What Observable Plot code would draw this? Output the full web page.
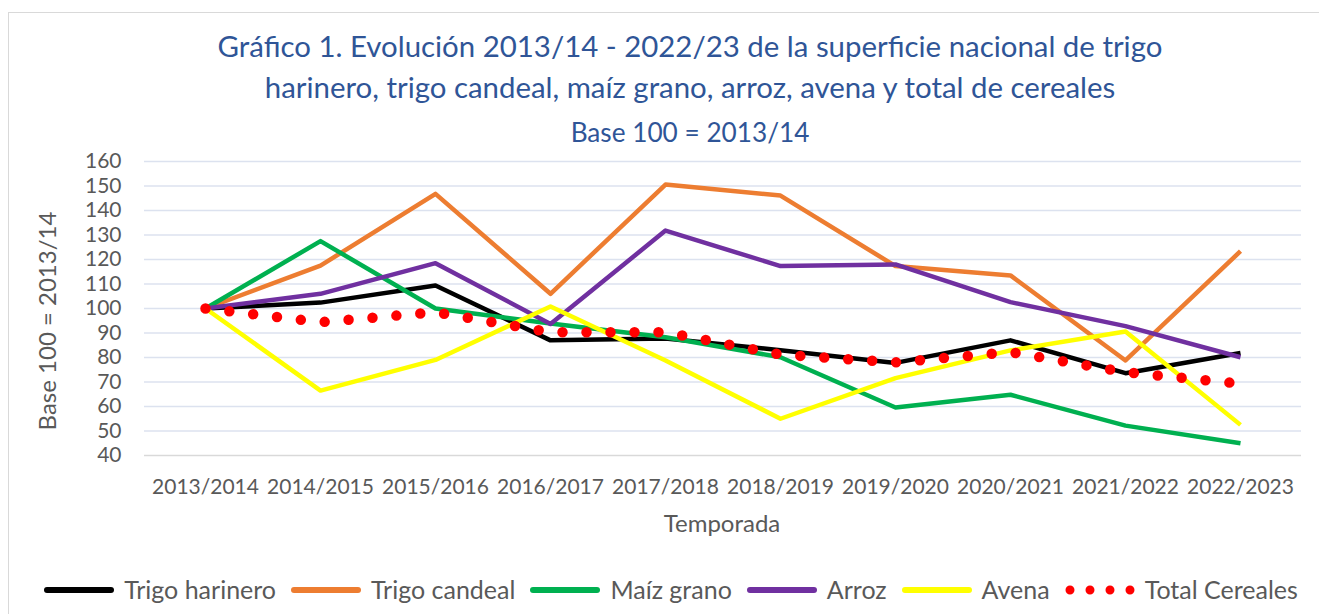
<!DOCTYPE html>
<html><head><meta charset="utf-8">
<script src="https://cdn.jsdelivr.net/npm/d3@7"></script>
<script src="https://cdn.jsdelivr.net/npm/@observablehq/plot@0.6"></script>
<style>
html,body{margin:0;padding:0;background:#fff;overflow:hidden;width:1319px;height:614px;font-family:Lato,"Open Sans",sans-serif;}
#frame{position:absolute;left:8px;top:12px;width:1400px;height:700px;border-top:1px solid #d9d9d9;border-left:1px solid #d9d9d9;box-sizing:border-box;}
.t{position:absolute;left:0;width:1380px;text-align:center;color:#2F5597;white-space:nowrap;line-height:1;}
#chart{position:absolute;left:0;top:0;}
.axt{position:absolute;color:#595959;white-space:nowrap;line-height:1;font-size:24px;}
#legend{position:absolute;left:0;top:577px;width:1342px;display:flex;justify-content:center;align-items:center;color:#595959;font-size:25px;line-height:1;}
#legend .it{display:flex;align-items:center;margin:0 7.5px;}
#legend svg{margin-right:10px;}
</style></head><body>
<div id="frame"></div>
<div class="t" id="t1" style="top:31px;font-size:29.4px;">Gráfico 1. Evolución 2013/14 - 2022/23 de la superficie nacional de trigo</div>
<div class="t" id="t2" style="top:72px;font-size:29.4px;">harinero, trigo candeal, maíz grano, arroz, avena y total de cereales</div>
<div class="t" id="t3" style="top:119px;font-size:26.2px;">Base 100 = 2013/14</div>
<div id="chart"></div>
<div class="axt" id="xt" style="left:0;width:1444px;text-align:center;top:511px;">Temporada</div>
<div class="axt" id="yt" style="left:47px;top:321px;transform:translate(-50%,-50%) rotate(-90deg);">Base 100 = 2013/14</div>
<div id="legend"></div>
<script>
const seasons = ["2013/2014","2014/2015","2015/2016","2016/2017","2017/2018","2018/2019","2019/2020","2020/2021","2021/2022","2022/2023"];
const yTicks = [40,50,60,70,80,90,100,110,120,130,140,150,160];
const trigoHarinero = [100,102.4,109.4,87,87.8,83,77.8,87,73.6,81.8];
const trigoCandeal = [100,117.5,146.8,106,150.6,146.1,117.3,113.5,78.8,123.4];
const maizGrano = [100,127.5,100,93.9,88.3,80.1,59.6,64.8,52.2,45];
const arroz = [100,106,118.5,93.7,131.8,117.3,118,102.6,92.8,80.1];
const avena = [100,66.5,79,100.8,78.8,55,71.6,82.9,90.6,52.5];
const totalCereales = [100,94.4,98.5,90.3,90.3,81.2,78,82.2,74,69.3];
const seriesNames = ["Trigo harinero","Trigo candeal","Maíz grano","Arroz","Avena","Total Cereales"];
const seriesColors = ["#000000","#ED7D31","#00B050","#7030A0","#FFFF00","#FF0000"];
const seriesValues = [trigoHarinero,trigoCandeal,maizGrano,arroz,avena,totalCereales];

const rows = (k) => seriesValues[k].map((v,i)=>({season:seasons[i], value:v}));
const lineMarks = seriesValues.map((vals,k)=>{
  if (k === 5) {
    return Plot.line(rows(k), {x:"season", y:"value", stroke:seriesColors[k], strokeWidth:10.5, strokeDasharray:"0 24", strokeLinecap:"round"});
  }
  return Plot.line(rows(k), {x:"season", y:"value", stroke:seriesColors[k], strokeWidth:4.5, strokeLinejoin:"round", strokeLinecap:"butt"});
});

const chart = Plot.plot({
  width:1319, height:614,
  marginLeft:144, marginRight:18, marginTop:161, marginBottom:159,
  style:{fontFamily:"Lato, 'Open Sans', sans-serif", fontSize:"21px", color:"#595959", background:"transparent"},
  x:{type:"point", domain:seasons, padding:0.5, tickSize:0, tickPadding:24, label:null},
  y:{domain:[40,160], ticks:yTicks, tickSize:0, tickPadding:23, label:null},
  marks:[
    Plot.ruleY(yTicks.filter(d=>d>40), {stroke:"#DCE2EF", strokeWidth:1.4}),
    Plot.ruleY([40], {stroke:"#D9D9D9", strokeWidth:1.6}),
    ...lineMarks
  ]
});
document.getElementById("chart").appendChild(chart);

const legend = document.getElementById("legend");
seriesNames.forEach((name,k)=>{
  const it = document.createElement("div"); it.className="it";
  const sw = k===5
    ? `<svg width="70" height="14"><line x1="5" y1="7" x2="65.5" y2="7" stroke="${seriesColors[k]}" stroke-width="9" stroke-linecap="round" stroke-dasharray="0 20"/></svg>`
    : `<svg width="70" height="14"><line x1="3" y1="7" x2="67" y2="7" stroke="${seriesColors[k]}" stroke-width="6" stroke-linecap="round"/></svg>`;
  it.innerHTML = sw + `<span>${name}</span>`;
  legend.appendChild(it);
});
</script>
</body></html>
